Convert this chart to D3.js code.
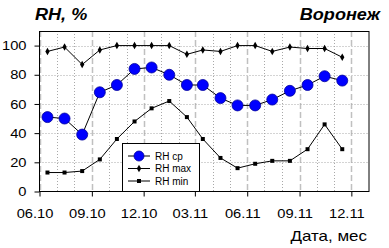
<!DOCTYPE html>
<html>
<head>
<meta charset="utf-8">
<script src="https://cdn.jsdelivr.net/npm/d3@7"></script>
<style>
  body { margin: 0; background: #fff; }
  text { font-family: Arial, "Liberation Sans", sans-serif; }
</style>
</head>
<body>
<div id="chart"></div>
<script>
// monthly values, 06.2010 - 11.2011
let months = ['2010-06', '2010-07', '2010-08', '2010-09', '2010-10', '2010-11', '2010-12',
    '2011-01', '2011-02', '2011-03', '2011-04', '2011-05', '2011-06', '2011-07', '2011-08',
    '2011-09', '2011-10', '2011-11'];
let rh_avg = [51, 50, 39, 68, 73, 84, 85, 80, 73, 73, 64, 59, 59, 63, 69, 73, 79, 76];
let rh_max = [96, 99, 87, 97, 100, 100, 100, 100, 94, 97, 96, 100, 100, 96, 99, 98, 98, 92];
let rh_min = [13, 13, 14, 22, 36, 48, 57, 62, 51, 36, 23, 16, 19, 21, 21, 29, 46, 29];
let y_ticks = [0, 20, 40, 60, 80, 100];
let legend_names = ['RH cp', 'RH max', 'RH min'];

let svgWidth = 389, svgHeight = 248;
let plot = { left: 39.5, right: 369, top: 31, bottom: 191.5 };
let stretch = 1.13;   // labels in the original look a bit wide

let parse = d3.timeParse('%Y-%m');
let dates = months.map(m => d3.timeDay.offset(parse(m), 14));

let svg = d3.select('#chart').append('svg')
    .attr('width', svgWidth)
    .attr('height', svgHeight);

let x_start = new Date(2010, 5, 1), x_end = new Date(2012, 0, 1);
let x = d3.scaleTime()
    .domain([x_start, x_end])
    .range([plot.left, plot.right]);
let y = d3.scaleLinear()
    .domain([0, 110])
    .range([plot.bottom, plot.top]);

let all_months = d3.timeMonth.range(x_start, x_end);
let major_months = all_months.filter(d => d.getMonth() % 3 == 2);
let minor_months = all_months.filter(d => d.getMonth() % 3 != 2);

function widen(sel) {
    sel.each(function () {
        let w = this.getComputedTextLength();
        d3.select(this).attr('textLength', w * stretch).attr('lengthAdjust', 'spacingAndGlyphs');
    });
}

// grid
let grid = svg.append('g');
grid.selectAll('.minor')
    .data(minor_months)
    .enter().append('line')
    .attr('x1', d => Math.round(x(d)) + 0.5).attr('x2', d => Math.round(x(d)) + 0.5)
    .attr('y1', plot.top).attr('y2', plot.bottom)
    .attr('stroke', '#a8a8a8').attr('stroke-dasharray', '1,2');
grid.selectAll('.major')
    .data(major_months)
    .enter().append('line')
    .attr('x1', d => Math.round(x(d)) + 0.5).attr('x2', d => Math.round(x(d)) + 0.5)
    .attr('y1', plot.top).attr('y2', plot.bottom)
    .attr('stroke', '#c0c0c0').attr('stroke-width', 1.5).attr('stroke-dasharray', '6,3');
grid.selectAll('.hgrid')
    .data(y_ticks.filter(d => d > 0))
    .enter().append('line')
    .attr('x1', plot.left).attr('x2', plot.right)
    .attr('y1', d => Math.round(y(d)) + 0.5).attr('y2', d => Math.round(y(d)) + 0.5)
    .attr('stroke', '#a8a8a8').attr('stroke-dasharray', '1,2');

// axes
let axis_x = d3.axisBottom(x)
    .tickValues(major_months)
    .tickFormat(d3.timeFormat('%m.%y'))
    .tickSize(5).tickPadding(12);
let gx = svg.append('g')
    .attr('transform', `translate(0, ${plot.bottom})`)
    .call(axis_x);
gx.select('.domain').remove();
gx.selectAll('text').attr('font-size', '13px').attr('font-family', 'Arial').attr('fill', '#000')
    .attr('x', -5).call(widen);

let axis_y = d3.axisLeft(y)
    .tickValues(y_ticks)
    .tickSize(5).tickPadding(8);
let gy = svg.append('g')
    .attr('transform', `translate(${plot.left}, 0)`)
    .call(axis_y);
gy.select('.domain').remove();
gy.selectAll('text').attr('font-size', '13px').attr('font-family', 'Arial').attr('fill', '#000').call(widen);

// frame
svg.append('rect')
    .attr('x', plot.left).attr('y', plot.top + 0.5)
    .attr('width', plot.right - plot.left).attr('height', plot.bottom - plot.top - 0.5)
    .attr('fill', 'none').attr('stroke', '#000');

// series
let line = d3.line()
    .x((d, i) => x(dates[i]))
    .y(d => y(d));

function draw_series(values, marker) {
    svg.append('path')
        .datum(values)
        .attr('d', line)
        .attr('fill', 'none')
        .attr('stroke', '#000')
        .attr('stroke-width', 1);
    let g = svg.append('g');
    values.forEach((v, i) => {
        marker(g, x(dates[i]), y(v));
    });
}

function mark_avg(g, cx, cy, r) {
    g.append('circle').attr('cx', cx).attr('cy', cy).attr('r', r || 5.5)
        .attr('fill', '#0000ff').attr('stroke', '#00009a').attr('stroke-width', 0.8);
}
function mark_max(g, cx, cy) {
    g.append('path').attr('d', d3.symbol(d3.symbolDiamond, 16)())
        .attr('transform', `translate(${cx},${cy})`).attr('fill', '#000');
}
function mark_min(g, cx, cy) {
    g.append('path').attr('d', d3.symbol(d3.symbolSquare, 16)())
        .attr('transform', `translate(${cx},${cy})`).attr('fill', '#000');
}

draw_series(rh_max, mark_max);
draw_series(rh_min, mark_min);
draw_series(rh_avg, mark_avg);

// legend
let lg = svg.append('g');
lg.append('rect')
    .attr('x', 122.5).attr('y', 143.5)
    .attr('width', 77).attr('height', plot.bottom - 143.5)
    .attr('fill', '#fff').attr('stroke', '#000');
let markers = [(g, cx, cy) => mark_avg(g, cx, cy, 5), mark_max, mark_min];
legend_names.forEach((name, i) => {
    let cy = 156 + i * 12.5;
    lg.append('line')
        .attr('x1', 128).attr('x2', 150)
        .attr('y1', cy).attr('y2', cy)
        .attr('stroke', '#000');
    markers[i](lg, 139, cy);
    lg.append('text')
        .attr('x', 155).attr('y', cy + 3.5)
        .attr('font-size', '10px')
        .text(name);
});

// titles
svg.append('text')
    .attr('x', 35).attr('y', 20)
    .attr('font-size', '16px').attr('font-weight', 'bold').attr('font-style', 'italic')
    .text('RH, %').call(widen);
svg.append('text')
    .attr('x', 380).attr('y', 20)
    .attr('text-anchor', 'end')
    .attr('font-size', '16px').attr('font-weight', 'bold').attr('font-style', 'italic')
    .text('Воронеж').call(widen);
svg.append('text')
    .attr('x', 367).attr('y', 241)
    .attr('text-anchor', 'end')
    .attr('font-size', '15px')
    .text('Дата, мес').call(widen);
</script>
</body>
</html>
